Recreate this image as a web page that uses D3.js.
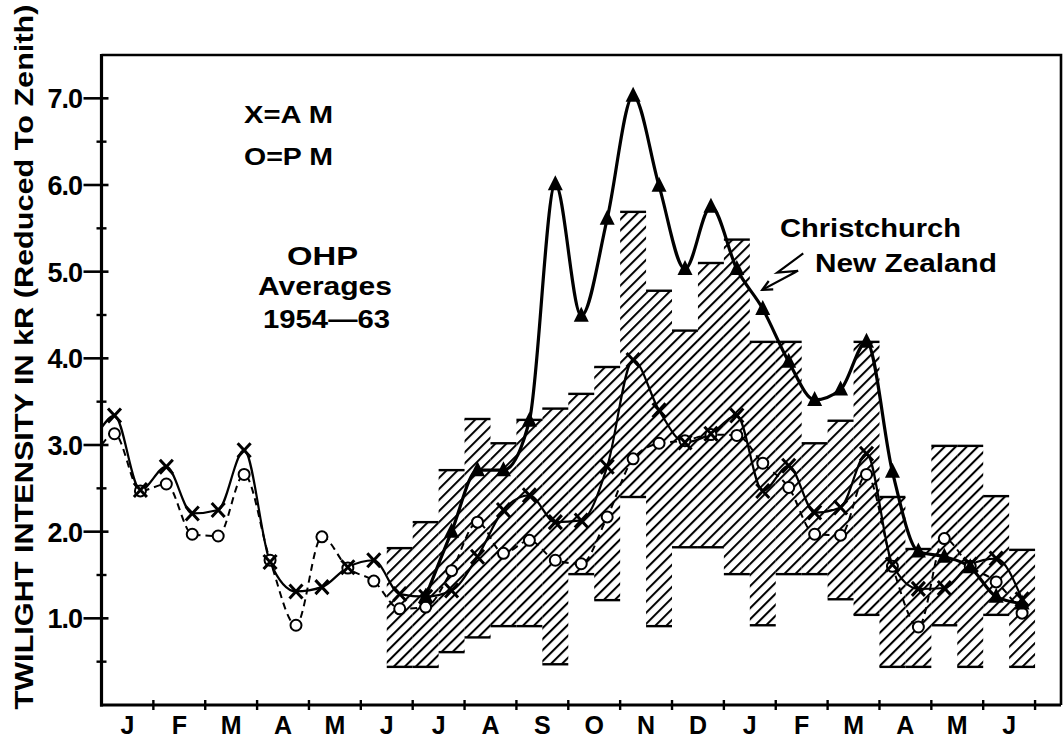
<!DOCTYPE html>
<html><head><meta charset="utf-8">
<script src="https://cdn.jsdelivr.net/npm/d3@7"></script>
<style>
body{margin:0;background:#fff}
text{font-family:"Liberation Sans",Arial,sans-serif;font-weight:bold;fill:#000}
</style>
</head><body>
<svg id="c" width="1064" height="741"></svg>
<script>
// ---------- DATA ----------
const monthLabels = ["J","F","M","A","M","J","J","A","S","O","N","D","J","F","M","A","M","J"];
const yTickValues = [1,2,3,4,5,6,7];
const yTickLabels = ["1.0","2.0","3.0","4.0","5.0","6.0","7.0"];
const yMinorTicks = [0.5,1.5,2.5,3.5,4.5,5.5,6.5];

// half-month positions (months from start of first January)
const halfMonthPos = [0.25,0.75,1.25,1.75,2.25,2.75,3.25,3.75,4.25,4.75,5.25,5.75,
  6.25,6.75,7.25,7.75,8.25,8.75,9.25,9.75,10.25,10.75,11.25,11.75,
  12.25,12.75,13.25,13.75,14.25,14.75,15.25,15.75,16.25,16.75,17.25,17.75];

// OHP averages, AM (X)
const amValues = [3.34,2.48,2.75,2.21,2.25,2.94,1.65,1.31,1.36,1.59,1.67,1.28,
  1.25,1.32,1.71,2.25,2.42,2.11,2.13,2.75,3.98,3.40,3.03,3.13,
  3.34,2.47,2.76,2.22,2.28,2.90,1.62,1.34,1.35,1.62,1.69,1.22];
// OHP averages, PM (O)
const pmValues = [3.13,2.47,2.55,1.97,1.95,2.66,1.67,0.92,1.94,1.58,1.43,1.11,
  1.13,1.55,2.11,1.75,1.90,1.67,1.63,2.17,2.84,3.02,3.05,3.12,
  3.11,2.79,2.51,1.97,1.96,2.66,1.60,0.90,1.92,1.60,1.42,1.06];
// Christchurch, New Zealand (triangles)
const chValues = [null,null,null,null,null,null,null,null,null,null,null,null,
  1.25,2.00,2.71,2.71,3.28,6.01,4.49,5.61,7.03,5.99,5.03,5.75,
  5.03,4.57,3.96,3.52,3.64,4.19,2.69,1.77,1.71,1.59,1.25,1.17];
// values where the curves meet the left axis
const amEdge = 3.2, pmEdge = 3.0;

// Hatched range (half-month steps)
const bandStart = [5.5,6.0,6.5,7.0,7.5,8.0,8.5,9.0,9.5,10.0,10.5,11.0,11.5,
  12.0,12.5,13.0,13.5,14.0,14.5,15.0,15.5,16.0,16.5,17.0,17.5];
const bandTop = [1.81,2.11,2.71,3.30,3.02,3.29,3.42,3.59,3.90,5.69,4.78,4.32,5.10,
  5.37,4.19,4.19,3.02,3.28,4.19,2.40,1.80,2.99,2.99,2.41,1.79];
const bandBottom = [0.44,0.44,0.61,0.78,0.91,0.91,0.47,1.51,1.21,2.40,0.91,1.82,1.82,
  1.51,0.92,1.51,1.51,1.22,1.04,0.44,0.44,0.92,0.44,1.04,0.44];

// ---------- SCALES ----------
const svg = d3.select("#c");
const x = d3.scaleLinear().domain([0,18.5]).range([101.5,1061]);
const y = d3.scaleLinear().domain([0,7.5]).range([705,55]);

// hatch pattern
const defs = svg.append("defs");
const pat = defs.append("pattern").attr("id","hatch").attr("patternUnits","userSpaceOnUse")
  .attr("width",7.8).attr("height",7.8).attr("patternTransform","rotate(45)");
pat.append("line").attr("x1",1).attr("y1",-1).attr("x2",1).attr("y2",10)
  .attr("stroke","#000").attr("stroke-width",2.1);

// ---------- BAND ----------
const band = bandStart.map((s,i)=>({s, t:bandTop[i], b:bandBottom[i]}));
const gb = svg.append("g");
gb.selectAll("rect").data(band).join("rect")
  .attr("x",d=>x(d.s)).attr("width",d=>x(d.s+0.5)-x(d.s))
  .attr("y",d=>y(d.t)).attr("height",d=>y(d.b)-y(d.t))
  .attr("fill","url(#hatch)");
gb.selectAll("line.top").data(band).join("line").attr("class","top")
  .attr("x1",d=>x(d.s)).attr("x2",d=>x(d.s+0.5))
  .attr("y1",d=>y(d.t)).attr("y2",d=>y(d.t))
  .attr("stroke","#000").attr("stroke-width",2.4);
gb.selectAll("line.bot").data(band).join("line").attr("class","bot")
  .attr("x1",d=>x(d.s)).attr("x2",d=>x(d.s+0.5))
  .attr("y1",d=>y(d.b)).attr("y2",d=>y(d.b))
  .attr("stroke","#000").attr("stroke-width",2.4);

// ---------- LINES ----------
const line = d3.line().defined(d=>d[1]!=null).x(d=>x(d[0])).y(d=>y(d[1])).curve(d3.curveMonotoneX);
const amPts = halfMonthPos.map((m,i)=>[m,amValues[i]]);
const pmPts = halfMonthPos.map((m,i)=>[m,pmValues[i]]);
const chPts = halfMonthPos.map((m,i)=>[m,chValues[i]]).filter(d=>d[1]!=null);

svg.append("path").attr("d",line([[0,pmEdge]].concat(pmPts))).attr("fill","none")
  .attr("stroke","#000").attr("stroke-width",2).attr("stroke-dasharray","7,5");
svg.append("path").attr("d",line([[0,amEdge]].concat(amPts))).attr("fill","none")
  .attr("stroke","#000").attr("stroke-width",2.2);
svg.append("path").attr("d",line(chPts)).attr("fill","none")
  .attr("stroke","#000").attr("stroke-width",3.2);

// ---------- MARKERS ----------
svg.append("g").selectAll("circle").data(pmPts).join("circle")
  .attr("cx",d=>x(d[0])).attr("cy",d=>y(d[1])).attr("r",5.5)
  .attr("fill","#fff").attr("stroke","#000").attr("stroke-width",2);
svg.append("g").selectAll("path").data(amPts).join("path")
  .attr("transform",d=>`translate(${x(d[0])},${y(d[1])})`)
  .attr("d","M-6.5,-7L6.5,7M-6.5,7L6.5,-7")
  .attr("stroke","#000").attr("stroke-width",3).attr("fill","none");
svg.append("g").selectAll("path").data(chPts).join("path")
  .attr("transform",d=>`translate(${x(d[0])},${y(d[1])})`)
  .attr("d","M0,-9L7.5,6L-7.5,6Z").attr("fill","#000");

// ---------- AXES ----------
const ax = svg.append("g");
// frame
ax.append("path").attr("d",`M${x(0)},${y(7.5)}H${x(18.5)}V${y(0)}`)
  .attr("fill","none").attr("stroke","#000").attr("stroke-width",2.6);
// left & bottom axes
ax.append("line").attr("x1",x(0)).attr("x2",x(0)).attr("y1",y(7.5)-1).attr("y2",y(0)+1.5)
  .attr("stroke","#000").attr("stroke-width",3.2);
ax.append("line").attr("x1",x(0)-1.5).attr("x2",x(18.5)).attr("y1",y(0)).attr("y2",y(0))
  .attr("stroke","#000").attr("stroke-width",3.2);
// y ticks
ax.selectAll("line.ymaj").data(yTickValues).join("line").attr("class","ymaj")
  .attr("x1",x(0)-18).attr("x2",x(0)+7).attr("y1",d=>y(d)).attr("y2",d=>y(d))
  .attr("stroke","#000").attr("stroke-width",2.6);
ax.selectAll("line.ymin").data(yMinorTicks).join("line").attr("class","ymin")
  .attr("x1",x(0)-5).attr("x2",x(0)+5).attr("y1",d=>y(d)).attr("y2",d=>y(d))
  .attr("stroke","#000").attr("stroke-width",2.4);
ax.selectAll("text.ylab").data(yTickValues).join("text").attr("class","ylab")
  .attr("x",82).attr("y",d=>y(d)+10).attr("text-anchor","end")
  .attr("font-size",27).attr("letter-spacing",-1).text((d,i)=>yTickLabels[i]);
// x ticks
const monthBounds = monthLabels.map((m,i)=>i+1);
ax.selectAll("line.xt").data(monthBounds).join("line").attr("class","xt")
  .attr("x1",d=>x(d)).attr("x2",d=>x(d)).attr("y1",y(0)-5).attr("y2",y(0)+5)
  .attr("stroke","#000").attr("stroke-width",2.4);
ax.selectAll("text.xlab").data(monthLabels).join("text").attr("class","xlab")
  .attr("x",(d,i)=>x(i+0.5)).attr("y",734).attr("text-anchor","middle")
  .attr("font-size",25).text(d=>d);

// y axis title
svg.append("text").attr("transform","translate(33,357) rotate(-90)")
  .attr("text-anchor","middle").attr("font-size",26)
  .attr("textLength",705).attr("lengthAdjust","spacingAndGlyphs")
  .text("TWILIGHT INTENSITY IN kR (Reduced To Zenith)");

// ---------- ANNOTATIONS ----------
function label(txt, px, py, size, len){
  svg.append("text").attr("x",px).attr("y",py).attr("font-size",size)
    .attr("textLength",len).attr("lengthAdjust","spacingAndGlyphs").text(txt);
}
label("X=A M",244,123,23,89);
label("O=P M",244,165,23,89);
label("OHP",287,265,25,71);
label("Averages",258,295,25,134);
label("1954\u201463",263,328,25,127);
label("Christchurch",780,237,26,181);
label("New Zealand",815,272,26,182);

// lightning arrow (in data coords)
const arrowPts = [[13.53,5.21],[13.03,4.99],[13.43,5.01],[12.74,4.79]];
const arrowLine = d3.line().x(d=>x(d[0])).y(d=>y(d[1]));
svg.append("path").attr("d",arrowLine(arrowPts))
  .attr("fill","none").attr("stroke","#000").attr("stroke-width",2.2);
const tip = arrowPts[3], prev = arrowPts[2];
const tx = x(tip[0]), ty = y(tip[1]);
const ang = Math.atan2(y(prev[1])-ty, x(prev[0])-tx);
const hl = 11;
svg.append("path")
  .attr("d",`M${tx+hl*Math.cos(ang+0.45)},${ty+hl*Math.sin(ang+0.45)}L${tx},${ty}L${tx+hl*Math.cos(ang-0.45)},${ty+hl*Math.sin(ang-0.45)}`)
  .attr("fill","none").attr("stroke","#000").attr("stroke-width",2.2);
</script>
</body></html>
